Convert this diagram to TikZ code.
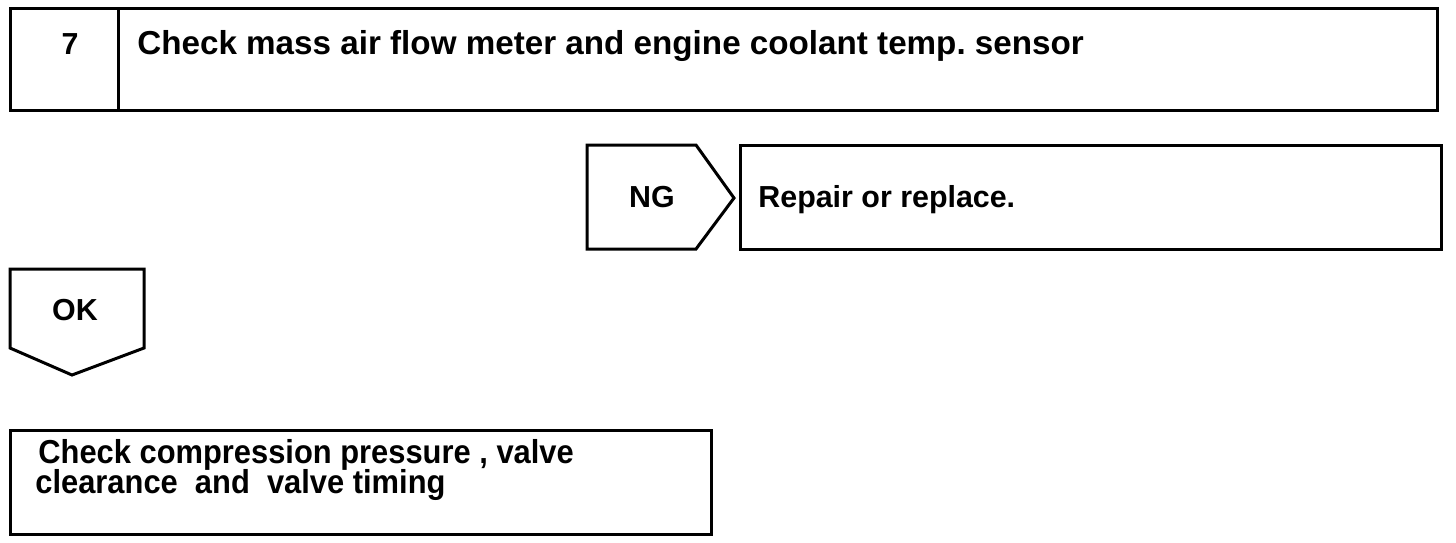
\documentclass[tikz,border=0pt]{standalone}
\usepackage{fontspec}
\setmainfont{Liberation Sans}
\frenchspacing
\begin{document}
\begin{tikzpicture}[x=0.5pt,y=-0.5pt,
  box/.style={draw=black,line width=1.5pt,line join=miter},
  lbl/.style={font=\bfseries\fontsize{15.2}{16}\selectfont,inner sep=0pt,anchor=base west},
  big/.style={font=\bfseries\fontsize{16.6}{17}\selectfont}]
\useasboundingbox (0,0) rectangle (1456,542);
% top box
\draw[box] (10,8) rectangle (1437,110);
\draw[box] (118,8) -- (118,110);
\node[lbl,anchor=base] (n7) at (70,54) {7};
\node[lbl,big] (t1) at (137,54) {Check mass air flow meter and engine coolant temp. sensor};
% NG
\draw[box] (587,145) -- (696,145) -- (734,198) -- (696,249) -- (587,249) -- cycle;
\node[lbl,anchor=base] (ng) at (652,207) {NG};
\draw[box] (740,145) rectangle (1441,249);
\node[lbl] (rep) at (758,207) {Repair or replace.};
% OK
\draw[box] (10,269) -- (144,269) -- (144,348) -- (72,375) -- (10,348) -- cycle;
\node[lbl,anchor=base] (ok) at (75,320) {OK};
% bottom box
\draw[box] (10,430) rectangle (711,534);
\node[lbl,big,xscale=0.93] (b1) at (38,463) {Check compression pressure , valve};
\node[lbl,big,xscale=0.93] (b2) at (35,493) {clearance\ \ and\ \ valve timing};
\end{tikzpicture}
\end{document}
